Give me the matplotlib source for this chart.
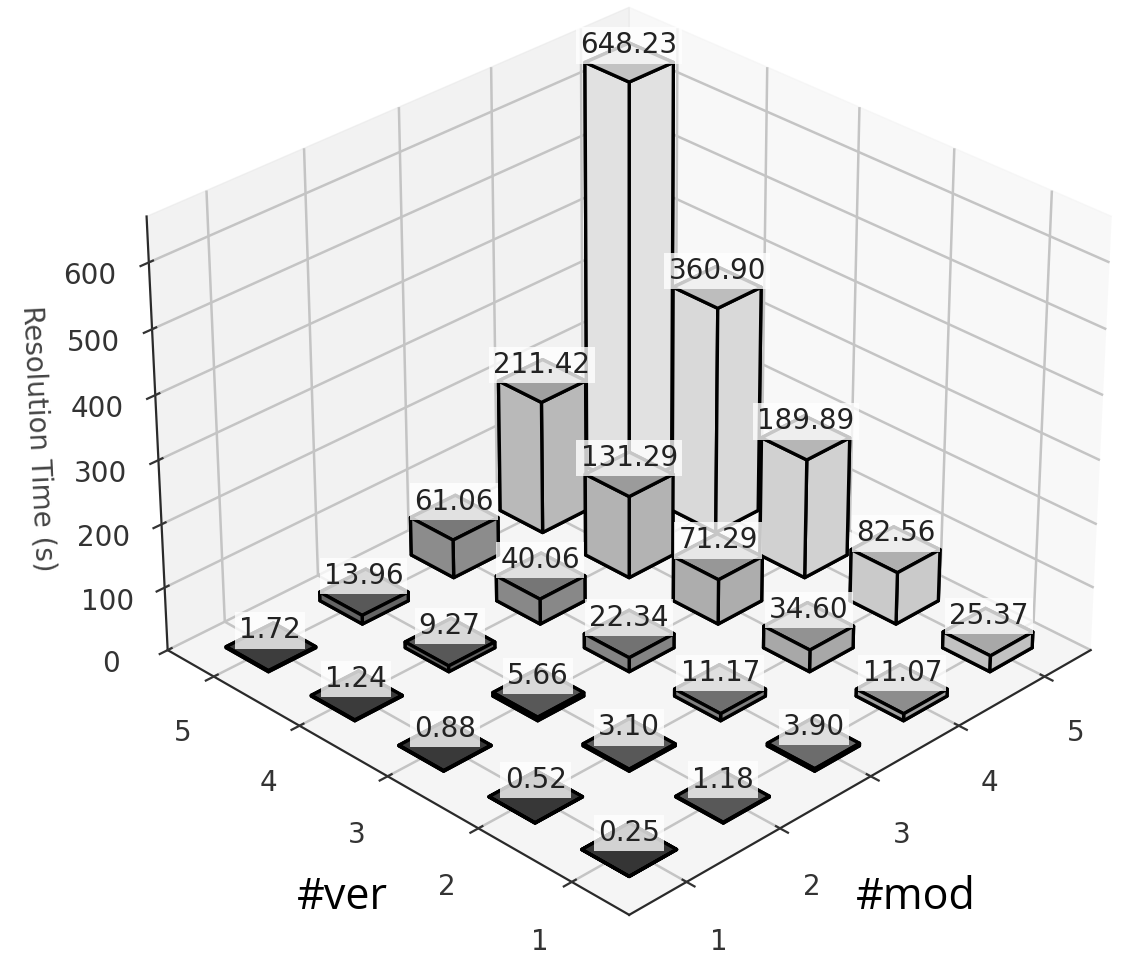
import numpy as np
import matplotlib
matplotlib.use("Agg")
import matplotlib.pyplot as plt

mods = [1, 2, 3, 4, 5]
vers = [1, 2, 3, 4, 5]
# rows are #ver, columns are #mod
ver1 = [0.25, 1.18, 3.90, 11.07, 25.37]
ver2 = [0.52, 3.10, 11.17, 34.60, 82.56]
ver3 = [0.88, 5.66, 22.34, 71.29, 189.89]
ver4 = [1.24, 9.27, 40.06, 131.29, 360.90]
ver5 = [1.72, 13.96, 61.06, 211.42, 648.23]
times = np.array([ver1, ver2, ver3, ver4, ver5])

# bar grey for each #mod column, first at ver 1, last at ver 5
grey_lo = [0.27, 0.45, 0.55, 0.72, 0.86]
grey_hi = [0.31, 0.45, 0.62, 0.82, 1.00]

plt.rcParams["grid.linewidth"] = 1.8
plt.rcParams["grid.color"] = "#c4c4c4"
plt.rcParams["axes.linewidth"] = 1.6
plt.rcParams["axes.edgecolor"] = "#2a2a2a"
plt.rcParams["xtick.major.width"] = 1.6
plt.rcParams["ytick.major.width"] = 1.6

fig = plt.figure(figsize=(11.24, 9.61), dpi=100)
ax = fig.add_axes([0.086, -0.01, 0.9226, 1.079], projection="3d")
ax.view_init(elev=30, azim=-135)

xx, yy = np.meshgrid(mods, vers)
x = xx.ravel()
y = yy.ravel()
z = times.ravel()

colors = []
for yi, xi in zip(y, x):
    g = grey_lo[xi - 1] + (grey_hi[xi - 1] - grey_lo[xi - 1]) * (yi - 1) / 4
    colors.append((g, g, g, 1))

w = 0.5
ax.bar3d(x - w / 2, y - w / 2, np.zeros_like(z), w, w, z, color=colors,
         edgecolor="black", linewidth=2.4, shade=True)

for xi, yi, zi in zip(x, y, z):
    ax.text(xi, yi, zi + 26, "%.2f" % zi, ha="center", va="center", fontsize=20,
            color="#222222", zorder=100,
            bbox=dict(facecolor="white", alpha=0.78, edgecolor="none", pad=3))

ax.set_xlim(0.4, 5.55)
ax.set_ylim(0.4, 5.55)
ax.set_zlim(0, 668)
ax.set_xticks(mods)
ax.set_yticks(vers)
ax.set_zticks([0, 100, 200, 300, 400, 500, 600])
ax.tick_params(labelsize=20, colors="#333333", pad=17)
ax.tick_params(axis="z", pad=16)
ax.set_zlabel("Resolution Time (s)", fontsize=20, color="#444444", labelpad=28)

fig.text(0.305, 0.066, "#ver", fontsize=31, family="Open Sans", ha="center", va="center", color="black")
fig.text(0.815, 0.066, "#mod", fontsize=31, family="Open Sans", ha="center", va="center", color="black")

fig.savefig("out.png", dpi=100)
